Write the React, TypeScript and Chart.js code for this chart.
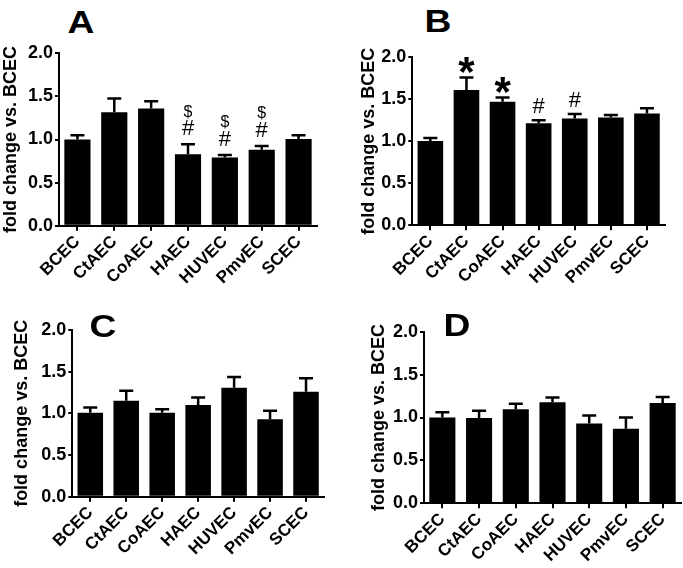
import React, { useEffect, useRef } from "react";
import { Chart, registerables } from "chart.js";

Chart.register(...registerables);

const categories = ["BCEC", "CtAEC", "CoAEC", "HAEC", "HUVEC", "PmvEC", "SCEC"];
const yTickValues = [0, 0.5, 1.0, 1.5, 2.0];
const yTitle = "fold change vs. BCEC";

const meanA = [1.0, 1.315, 1.36, 0.83, 0.79, 0.88, 1.005];
const semA = [0.05, 0.16, 0.085, 0.115, 0.03, 0.045, 0.045];
const hashA = ["", "", "", "#", "#", "#", ""];
const dollarA = ["", "", "", "$", "$", "$", ""];

const meanB = [1.005, 1.61, 1.472, 1.214, 1.27, 1.282, 1.33];
const semB = [0.035, 0.15, 0.05, 0.036, 0.055, 0.031, 0.063];
const starB = ["", "*", "*", "", "", "", ""];
const hashB = ["", "", "", "#", "#", "", ""];

const meanC = [1.008, 1.152, 1.008, 1.1, 1.308, 0.928, 1.26];
const semC = [0.062, 0.118, 0.04, 0.09, 0.128, 0.104, 0.16];

const meanD = [1.0, 0.995, 1.095, 1.178, 0.93, 0.868, 1.17];
const semD = [0.06, 0.085, 0.065, 0.054, 0.093, 0.132, 0.07];

const FAMILY = "'Liberation Sans', Arial, Helvetica, sans-serif";

type Mark = { texts: string[]; font: string; lift: number };

type PanelProps = {
  left: number;
  top: number;
  width: number;
  height: number;
  padLeft: number;
  padTop: number;
  padRight: number;
  yWidth: number;
  xHeight: number;
  means: number[];
  sems: number[];
  marks: Mark[];
};

function overlayPlugin(means: number[], sems: number[], marks: Mark[]) {
  return {
    id: "errorsAndMarks",
    afterDatasetsDraw(chart: any) {
      const ctx = chart.ctx;
      const y = chart.scales.y;
      const meta = chart.getDatasetMeta(0);
      ctx.save();
      ctx.strokeStyle = "#000";
      ctx.lineWidth = 2.5;
      meta.data.forEach((bar: any, i: number) => {
        const top = y.getPixelForValue(means[i]);
        const cap = y.getPixelForValue(means[i] + sems[i]);
        ctx.beginPath();
        ctx.moveTo(bar.x, top);
        ctx.lineTo(bar.x, cap);
        ctx.moveTo(bar.x - 7, cap);
        ctx.lineTo(bar.x + 7, cap);
        ctx.stroke();
        marks.forEach((m) => {
          const t = m.texts[i];
          if (!t) return;
          ctx.font = m.font;
          ctx.fillStyle = "#000";
          ctx.textAlign = "center";
          ctx.textBaseline = "middle";
          ctx.fillText(t, bar.x, cap - m.lift);
        });
      });
      ctx.restore();
    },
  };
}

function Panel(p: PanelProps) {
  const ref = useRef<HTMLCanvasElement>(null);
  useEffect(() => {
    if (!ref.current) return;
    const chart = new Chart(ref.current, {
      type: "bar",
      data: {
        labels: categories,
        datasets: [
          {
            data: p.means,
            backgroundColor: "#000",
            borderWidth: 0,
            barPercentage: 0.71,
            categoryPercentage: 1.0,
          },
        ],
      },
      options: {
        responsive: false,
        animation: false,
        devicePixelRatio: 1,
        layout: { padding: { left: p.padLeft, top: p.padTop, right: p.padRight, bottom: 0 } },
        plugins: { legend: { display: false }, tooltip: { enabled: false } },
        scales: {
          x: {
            afterFit: (s: any) => {
              s.height = p.xHeight;
            },
            ticks: {
              minRotation: 45,
              maxRotation: 45,
              autoSkip: false,
              color: "#000",
              padding: 1,
              font: { family: FAMILY, size: 17, weight: "bold" },
            },
            grid: {
              offset: false,
              drawOnChartArea: false,
              drawTicks: true,
              tickLength: 5,
              color: "#000",
              lineWidth: 2,
            },
            border: { display: true, color: "#000", width: 2 },
          },
          y: {
            min: 0,
            max: 2,
            afterFit: (s: any) => {
              s.width = p.yWidth;
            },
            afterBuildTicks: (s: any) => {
              s.ticks = yTickValues.map((v) => ({ value: v }));
            },
            ticks: {
              color: "#000",
              padding: 2,
              font: { family: FAMILY, size: 18, weight: "bold" },
              callback: (v: any) => Number(v).toFixed(1),
            },
            grid: {
              drawOnChartArea: false,
              drawTicks: true,
              tickLength: 4,
              color: "#000",
              lineWidth: 2,
            },
            border: { display: true, color: "#000", width: 2 },
            title: {
              display: true,
              text: yTitle,
              color: "#000",
              padding: 0,
              font: { family: FAMILY, size: 18, weight: "bold" },
            },
          },
        },
      },
      plugins: [overlayPlugin(p.means, p.sems, p.marks)],
    } as any);
    return () => chart.destroy();
  }, []);
  return (
    <canvas
      ref={ref}
      width={p.width}
      height={p.height}
      style={{ position: "absolute", left: p.left, top: p.top, width: p.width, height: p.height }}
    />
  );
}

function Letter({ text, x, y }: { text: string; x: number; y: number }) {
  return (
    <div
      style={{
        position: "absolute",
        left: x,
        top: y,
        transform: "translate(-50%, -50%) scaleX(1.2)",
        fontFamily: FAMILY,
        fontWeight: "bold",
        fontSize: 31,
        lineHeight: 1,
        color: "#000",
        zIndex: 2,
      }}
    >
      {text}
    </div>
  );
}

export default function App() {
  const hashFont = `22px ${FAMILY}`;
  const dollarFont = `16px ${FAMILY}`;
  const starFont = `bold 42px ${FAMILY}`;
  return (
    <div style={{ position: "absolute", left: 0, top: 0, width: 683, height: 568, background: "#fff", overflow: "hidden" }}>
      <Panel
        left={0}
        top={40}
        width={341}
        height={250}
        padLeft={0}
        padTop={13.3}
        padRight={24}
        yWidth={59}
        xHeight={64.3}
        means={meanA}
        sems={semA}
        marks={[
          { texts: hashA, font: hashFont, lift: 15.5 },
          { texts: dollarA, font: dollarFont, lift: 32 },
        ]}
      />
      <Panel
        left={341}
        top={40}
        width={342}
        height={250}
        padLeft={17.2}
        padTop={17.3}
        padRight={18}
        yWidth={54.1}
        xHeight={64.7}
        means={meanB}
        sems={semB}
        marks={[
          { texts: starB, font: starFont, lift: 3 },
          { texts: hashB, font: hashFont, lift: 13.5 },
        ]}
      />
      <Panel
        left={0}
        top={300}
        width={341}
        height={268}
        padLeft={10.9}
        padTop={30}
        padRight={17}
        yWidth={61.4}
        xHeight={71.3}
        means={meanC}
        sems={semC}
        marks={[]}
      />
      <Panel
        left={341}
        top={300}
        width={342}
        height={268}
        padLeft={27.7}
        padTop={31.7}
        padRight={2}
        yWidth={55.3}
        xHeight={64.7}
        means={meanD}
        sems={semD}
        marks={[]}
      />
      <Letter text="A" x={81} y={22} />
      <Letter text="B" x={437.5} y={21} />
      <Letter text="C" x={103} y={326} />
      <Letter text="D" x={457} y={325} />
    </div>
  );
}
